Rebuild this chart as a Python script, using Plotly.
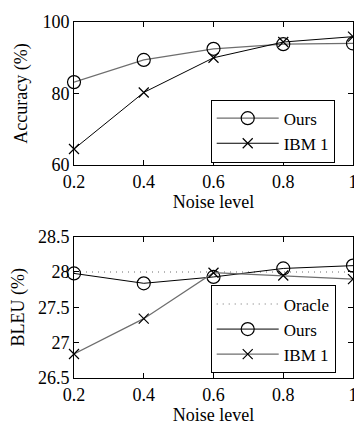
import plotly.graph_objects as go

noise = [0.2, 0.4, 0.6, 0.8, 1.0]
acc_ours = [83.2, 89.4, 92.5, 93.8, 94.0]
acc_ibm = [64.5, 80.3, 90.0, 94.4, 95.9]
bleu_oracle = [28.0, 28.0, 28.0, 28.0, 28.0]
bleu_ours = [27.98, 27.84, 27.93, 28.05, 28.09]
bleu_ibm = [26.84, 27.34, 27.99, 27.95, 27.90]
x_ticks = [0.2, 0.4, 0.6, 0.8, 1.0]
x_ticktext = ["0.2", "0.4", "0.6", "0.8", "1"]
acc_ticks = [60, 80, 100]
bleu_ticks = [26.5, 27, 27.5, 28, 28.5]
bleu_ticktext = ["26.5", "27", "27.5", "28", "28.5"]

FONT = "Liberation Serif, Times New Roman, serif"
GRAY = "#6e6e6e"

fig = go.Figure()

fig.add_trace(go.Scatter(x=noise, y=acc_ours, name="Ours", mode="lines+markers",
                         line=dict(color=GRAY, width=1.2),
                         marker=dict(symbol="circle-open", size=13, color="black", line=dict(width=1.2)),
                         xaxis="x", yaxis="y", legend="legend", cliponaxis=False))
fig.add_trace(go.Scatter(x=noise, y=acc_ibm, name="IBM 1", mode="lines+markers",
                         line=dict(color="black", width=1),
                         marker=dict(symbol="x-thin-open", size=10, color="black", line=dict(width=1.2, color="black")),
                         xaxis="x", yaxis="y", legend="legend", cliponaxis=False))

fig.add_trace(go.Scatter(x=noise, y=bleu_oracle, name="Oracle", mode="lines",
                         line=dict(color=GRAY, width=1.2, dash="1px,5px"),
                         xaxis="x2", yaxis="y2", legend="legend2", cliponaxis=False))
fig.add_trace(go.Scatter(x=noise, y=bleu_ours, name="Ours", mode="lines+markers",
                         line=dict(color="black", width=1),
                         marker=dict(symbol="circle-open", size=13, color="black", line=dict(width=1.2)),
                         xaxis="x2", yaxis="y2", legend="legend2", cliponaxis=False))
fig.add_trace(go.Scatter(x=noise, y=bleu_ibm, name="IBM 1", mode="lines+markers",
                         line=dict(color=GRAY, width=1.2),
                         marker=dict(symbol="x-thin-open", size=10, color="black", line=dict(width=1.2, color="black")),
                         xaxis="x2", yaxis="y2", legend="legend2", cliponaxis=False))

axis_common = dict(showline=True, linecolor="black", linewidth=1, mirror="ticks",
                   ticks="inside", ticklen=5, tickcolor="black", showgrid=False, zeroline=False,
                   tickfont=dict(family=FONT, size=18, color="black"))

# page body has an 8px default margin, so the figure is shrunk by 8px to fit the 362x425 window
fig.update_layout(
    width=354, height=417,
    margin=dict(l=66, r=4, t=9, b=47),
    paper_bgcolor="white", plot_bgcolor="white",
    font=dict(family=FONT, size=18, color="black"),
    xaxis=dict(domain=[0, 1], anchor="y", range=[0.2, 1.0], tickvals=x_ticks, ticktext=x_ticktext,
               ticklabeloverflow="allow",
               title=dict(text="Noise level", standoff=4, font=dict(family=FONT, size=18)), **axis_common),
    yaxis=dict(domain=[0.598, 1], anchor="x", range=[60, 100], tickvals=acc_ticks,
               title=dict(text="Accuracy (%)", standoff=10, font=dict(family=FONT, size=18)), **axis_common),
    xaxis2=dict(domain=[0, 1], anchor="y2", range=[0.2, 1.0], tickvals=x_ticks, ticktext=x_ticktext,
                ticklabeloverflow="allow",
                title=dict(text="Noise level", standoff=4, font=dict(family=FONT, size=18)), **axis_common),
    yaxis2=dict(domain=[0, 0.397], anchor="x2", range=[26.5, 28.5],
                tickvals=bleu_ticks, ticktext=bleu_ticktext,
                title=dict(text="BLEU (%)", standoff=10, font=dict(family=FONT, size=18)), **axis_common),
    legend=dict(x=0.49, y=0.782, xanchor="left", yanchor="top", bgcolor="white",
                bordercolor="black", borderwidth=1, itemwidth=62,
                font=dict(family=FONT, size=17), tracegroupgap=0),
    legend2=dict(x=0.49, y=0.26, xanchor="left", yanchor="top", bgcolor="white",
                 bordercolor="black", borderwidth=1, itemwidth=62,
                 font=dict(family=FONT, size=17), tracegroupgap=0),
    showlegend=True,
)

fig.write_html("out.html")
